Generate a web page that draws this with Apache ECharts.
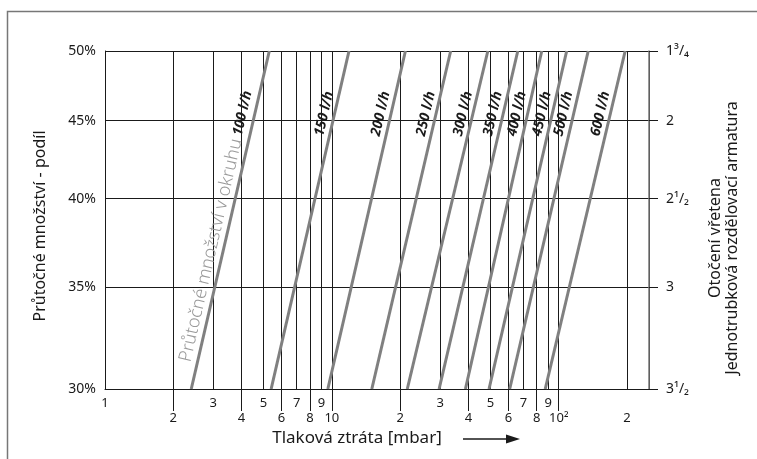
<!DOCTYPE html>
<html><head><meta charset="utf-8">
<script src="https://cdn.jsdelivr.net/npm/echarts@6/dist/echarts.min.js"></script>
<style>html,body{margin:0;padding:0;background:#fff}#c{width:757px;height:459px}</style>
</head><body><div id="c"></div>
<script>
// ---- data ----
const flowRates = [100, 150, 200, 250, 300, 350, 400, 450, 500, 600];          // l/h
const lossAt30 = [2.4, 5.4, 9.6, 15.0, 21.5, 29.7, 38.8, 49.3, 60.8, 87.2];    // mbar at 30 %
const lossAt50 = [5.3, 11.9, 21.1, 33.4, 48.7, 66.0, 84.2, 108.4, 134.9, 196.3]; // mbar at 50 %
const shareTicks = [30, 35, 40, 45, 50];
const shareLabels = ['30%', '35%', '40%', '45%', '50%'];
const turnLabels = ['3¹/₂', '3', '2¹/₂', '2', '1³/₄'];
const lossGrid = [2, 3, 4, 5, 6, 7, 8, 9, 10, 20, 30, 40, 50, 60, 70, 80, 90, 100, 200, 250];
const lossUpperTicks = [1, 3, 5, 7, 9, 30, 50, 70, 90];
const lossUpperLabels = ['1', '3', '5', '7', '9', '3', '5', '7', '9'];
const lossLowerTicks = [2, 4, 6, 8, 10, 20, 40, 60, 80, 100, 200];
const lossLowerLabels = ['2', '4', '6', '8', '10', '2', '4', '6', '8', '10²', '2'];
const lossLongTicks = [2, 4, 6, 8, 10, 20, 40, 60, 80, 100];
const lossMin = 1, lossMax = 250;

const FONT = "'Noto Sans', 'DejaVu Sans', sans-serif";
const INK = '#1a1a1a';
function lookup(ticks, labels, v) {
  const k = ticks.findIndex(t => Math.abs(t - v) / t < 1e-6);
  return k < 0 ? '' : labels[k];
}

const chart = echarts.init(document.getElementById('c'), null, {renderer: 'canvas'});

const series = flowRates.map((q, i) => ({
  type: 'line',
  xAxisIndex: 0, yAxisIndex: 0,
  clip: false, silent: true, animation: false,
  data: [[lossAt30[i], shareTicks[0]], {value: [lossAt50[i], shareTicks[shareTicks.length - 1]], label: {show: true}}],
  symbol: 'circle', symbolSize: 1, showSymbol: true,
  itemStyle: {color: 'rgba(0,0,0,0)'},
  lineStyle: {color: '#808080', width: 3},
  emphasis: {disabled: true},
  z: 3,
  label: {
    show: false, position: 'inside', rotate: 77, align: 'right', verticalAlign: 'bottom',
    offset: [-44, -3],
    fontFamily: FONT, fontSize: 14, fontWeight: 'bold', fontStyle: 'italic', color: INK,
    formatter: i === 0 ? '{g|Průtočné množství v okruhu} {b|' + q + ' l/h}' : q + ' l/h',
    rich: {
      g: {fontFamily: FONT, fontSize: 18, fontWeight: 300, fontStyle: 'normal', color: '#9a9a9a'},
      b: {fontFamily: FONT, fontSize: 14, fontWeight: 'bold', fontStyle: 'italic', color: INK}
    }
  }
}));

const option = {
  animation: false,
  backgroundColor: '#fff',
  grid: {left: 105, right: 108, top: 51, bottom: 70, containLabel: false},
  xAxis: [
    {
      type: 'log', logBase: 10, min: lossMin, max: lossMax, position: 'bottom',
      axisLine: {show: true, lineStyle: {color: INK, width: 1}},
      axisTick: {show: true, customValues: lossLongTicks, length: 22, lineStyle: {color: INK, width: 1}},
      axisLabel: {customValues: lossLowerTicks, margin: 23, fontFamily: FONT, fontSize: 13, color: INK,
        formatter: v => lookup(lossLowerTicks, lossLowerLabels, v)},
      splitLine: {show: false},
      name: 'Tlaková ztráta [mbar]', nameLocation: 'middle', nameGap: 40,
      nameTextStyle: {fontFamily: FONT, fontSize: 17, color: INK, align: 'center', padding: [0, 40, 0, 0]}
    },
    {
      type: 'log', logBase: 10, min: lossMin, max: lossMax, position: 'bottom',
      axisLine: {show: false},
      axisTick: {show: false, customValues: lossGrid},
      axisLabel: {customValues: lossUpperTicks, margin: 8, fontFamily: FONT, fontSize: 13, color: INK,
        formatter: v => lookup(lossUpperTicks, lossUpperLabels, v)},
      splitLine: {show: true, lineStyle: {color: INK, width: 1}}
    }
  ],
  yAxis: [
    {
      type: 'log', logBase: 10, min: shareTicks[0], max: shareTicks[shareTicks.length - 1], position: 'left',
      axisLine: {show: true, lineStyle: {color: INK, width: 1}},
      axisTick: {show: false, customValues: shareTicks},
      axisLabel: {customValues: shareTicks, margin: 9, fontFamily: FONT, fontSize: 14, color: INK,
        formatter: v => lookup(shareTicks, shareLabels, v)},
      splitLine: {show: true, lineStyle: {color: INK, width: 1}}
    },
    {
      type: 'log', logBase: 10, min: shareTicks[0], max: shareTicks[shareTicks.length - 1], position: 'right',
      axisLine: {show: true, lineStyle: {color: '#777', width: 1.5}},
      axisTick: {show: true, customValues: shareTicks, length: 9, lineStyle: {color: INK, width: 1}},
      axisLabel: {customValues: shareTicks, margin: 17, fontFamily: FONT, fontSize: 14, color: INK,
        formatter: v => lookup(shareTicks, turnLabels, v)},
      splitLine: {show: false},
      name: 'Otočení vřetena\nJednotrubková rozdělovací armatura', nameLocation: 'middle', nameGap: 58,
      nameTextStyle: {fontFamily: FONT, fontSize: 16, lineHeight: 17, color: INK, align: 'center', padding: [0, 36, 0, 0]}
    }
  ],
  graphic: [
    {type: 'polyline', silent: true, shape: {points: [[7.5, 459], [7.5, 11.5], [757, 11.5]]},
      style: {stroke: '#777', lineWidth: 1.5, fill: null}},
    {type: 'text', silent: true, x: 40, y: 226, rotation: Math.PI / 2,
      style: {text: 'Průtočné množství - podíl', font: "16px " + FONT, fill: INK, align: 'center', verticalAlign: 'middle'}},
    {type: 'line', silent: true, shape: {x1: 463, y1: 439, x2: 510, y2: 439}, style: {stroke: INK, lineWidth: 1.5}},
    {type: 'polygon', silent: true, shape: {points: [[506, 434.5], [520, 439], [506, 443.5]]}, style: {fill: INK}}
  ],
  series: series
};
chart.setOption(option);
</script>
</body></html>
